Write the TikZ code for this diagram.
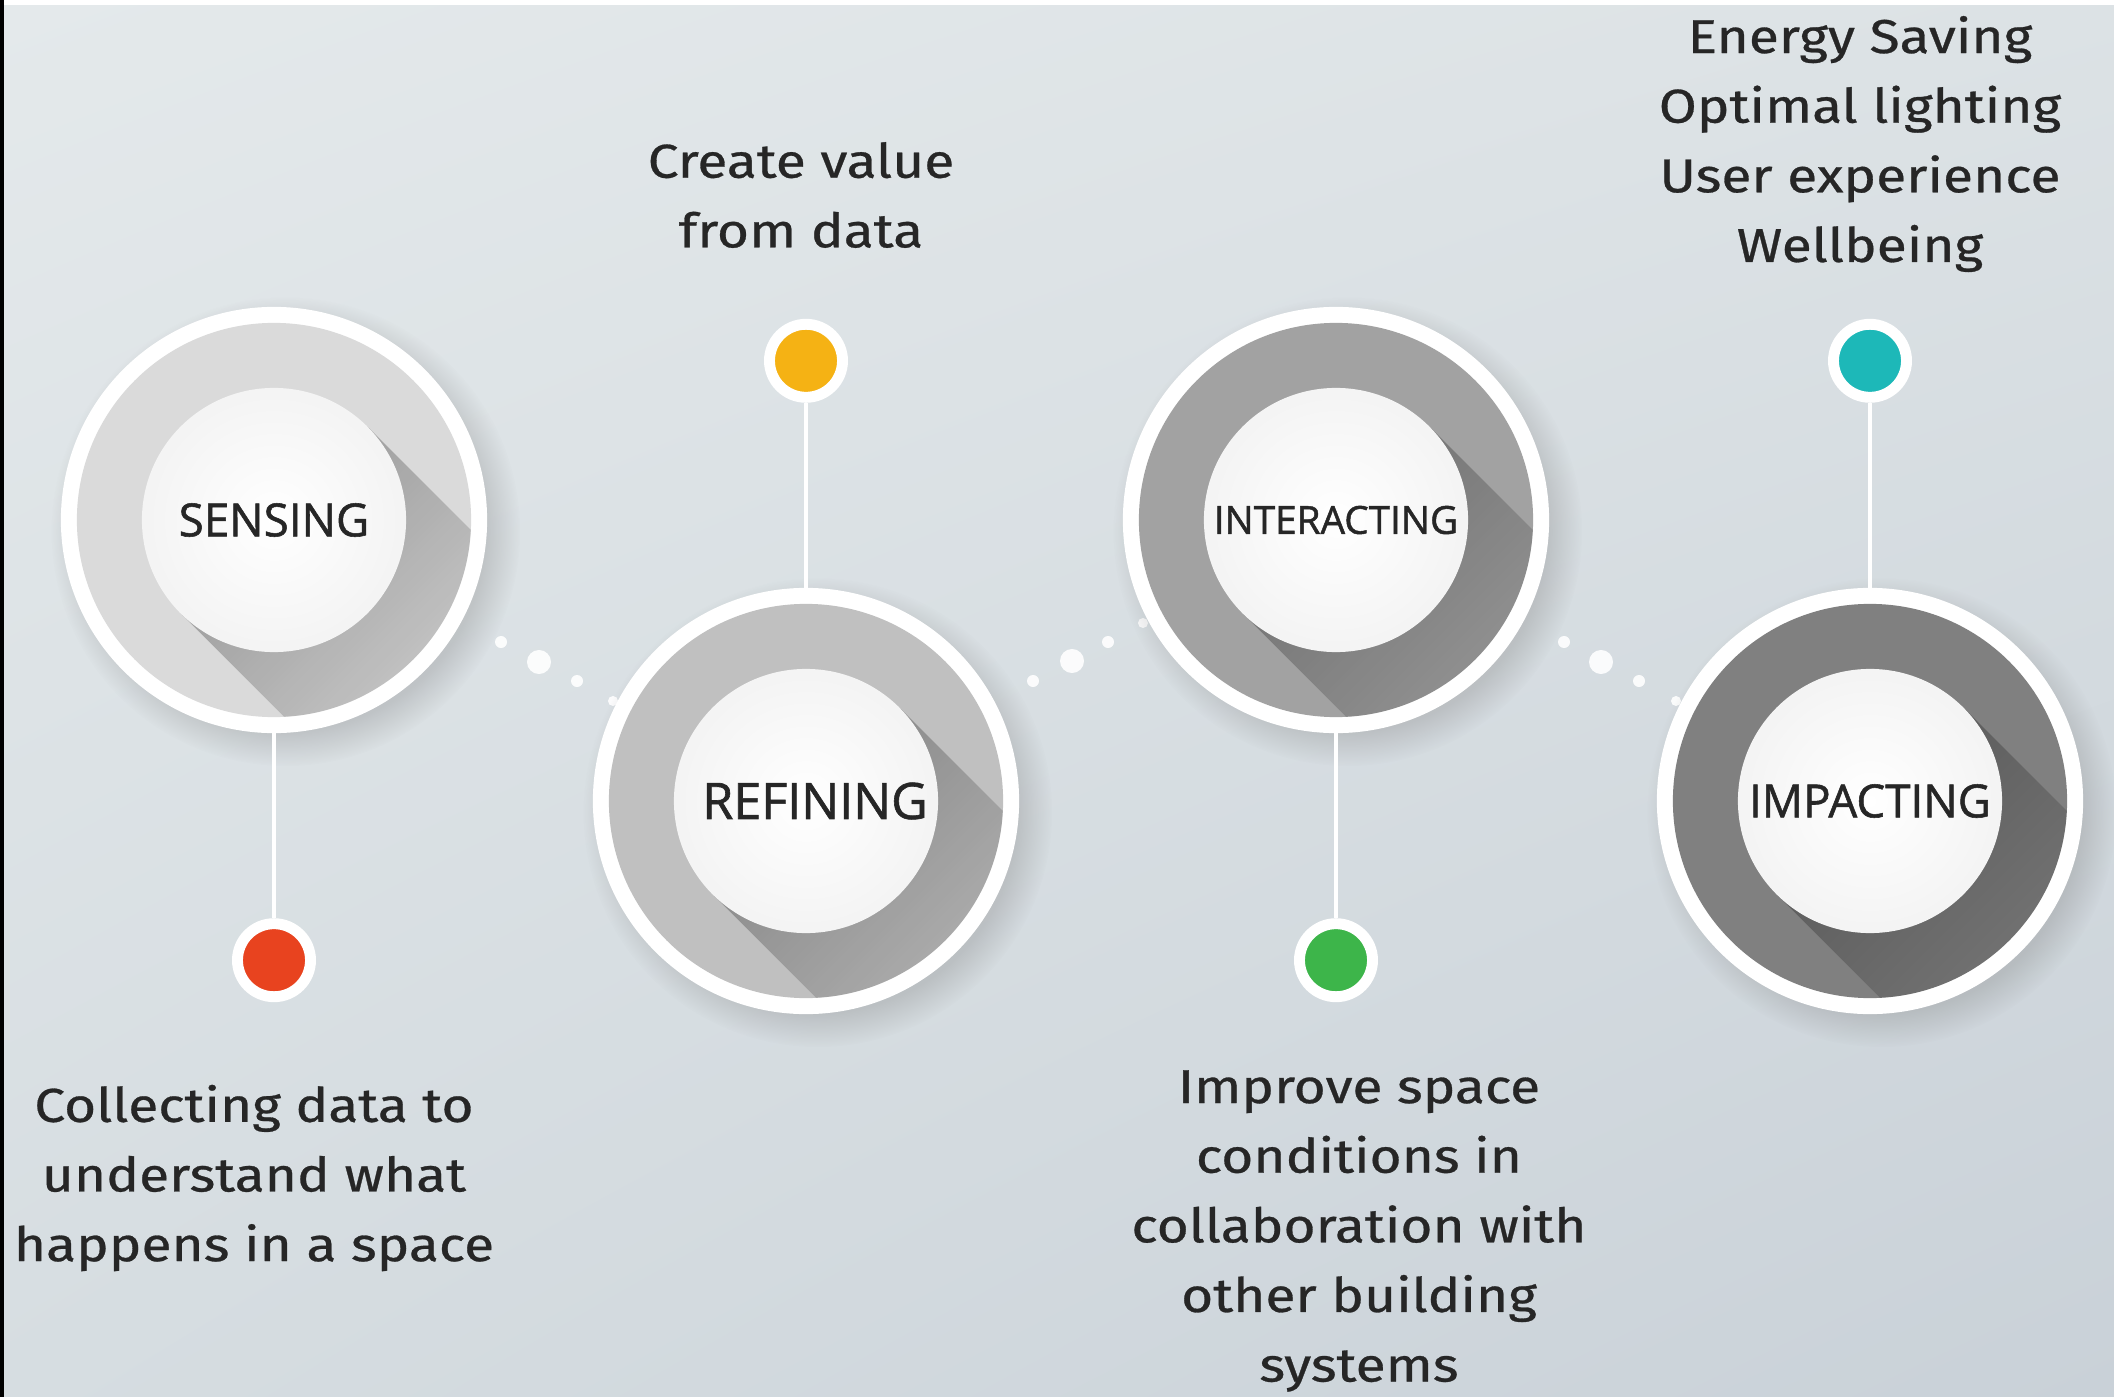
\documentclass[tikz,border=0pt]{standalone}
\usepackage{fontspec}
\setmainfont{Open Sans}
\newfontfamily\descfont[FakeStretch=1.16, FakeBold=0.6]{Fira Sans}
\newfontfamily\ballfont[FakeBold=1.2]{Open Sans}
\usepackage{xcolor}
\usetikzlibrary{positioning,shadows,shadings,fadings}

\definecolor{bgTL}{HTML}{E4E9EB}
\definecolor{bgTR}{HTML}{DCE2E5}
\definecolor{bgBL}{HTML}{D6DDE1}
\definecolor{bgBR}{HTML}{C9D1D8}
\definecolor{ringA}{HTML}{DADADA}
\definecolor{ringB}{HTML}{C0C0C0}
\definecolor{ringC}{HTML}{A2A2A2}
\definecolor{ringD}{HTML}{808080}
\definecolor{dotRed}{HTML}{E8431F}
\definecolor{dotYellow}{HTML}{F5B214}
\definecolor{dotGreen}{HTML}{3DB54A}
\definecolor{dotTeal}{HTML}{1DB8B8}
\definecolor{inkText}{HTML}{262626}

\begin{document}
\begin{tikzpicture}[
  x=0.01cm, y=-0.01cm,
  ring/.style={circle, fill=white, minimum size=4.26cm, inner sep=0pt, outer sep=0pt,
    circular drop shadow={shadow xshift=3pt, shadow yshift=-3pt, opacity=0.3}},
  disc/.style={circle, fill=#1, minimum size=3.94cm, inner sep=0pt, outer sep=0pt},
  ball/.style={circle, minimum size=2.64cm, inner sep=0pt, shade, inner color=white,
    outer color=gray!9, text=inkText},
  longshade/.style={fill=black, fill opacity=0.3, path fading=south, fading angle=45},
  dot/.style={circle, draw=white, line width=3.1pt, fill=#1, minimum size=0.73cm, inner sep=0pt},
  stem/.style={draw=white, line width=1.2pt},
  spark/.style={circle, fill=white, fill opacity=0.9, minimum size=#1, inner sep=0pt},
  desc/.style={align=center, text=inkText, font=\descfont\fontsize{13.5}{19.8}\selectfont}
]
  % background
  \useasboundingbox (0,0) rectangle (2114,1397);
  \shade[upper left=bgTL, upper right=bgTR, lower left=bgBL, lower right=bgBR]
    (0,0) rectangle (2114,1397);
  \fill[white] (0,0) rectangle (2114,5);
  \fill[black] (0,0) rectangle (4,1397);

  % little dots between the stages
  \node[spark=0.12cm] (s1a) at (501,642) {};
  \node[spark=0.24cm] (s1b) at (539,662) {};
  \node[spark=0.12cm] (s1c) at (577,681) {};
  \node[spark=0.10cm] (s1d) at (613,701) {};
  \node[spark=0.12cm] (s2a) at (1033,681) {};
  \node[spark=0.24cm] (s2b) at (1072,661) {};
  \node[spark=0.12cm] (s2c) at (1108,642) {};
  \node[spark=0.10cm] (s2d) at (1143,623) {};
  \node[spark=0.12cm] (s3a) at (1564,642) {};
  \node[spark=0.24cm] (s3b) at (1601,662) {};
  \node[spark=0.12cm] (s3c) at (1639,681) {};
  \node[spark=0.10cm] (s3d) at (1676,701) {};

  % stages
  \node[ring] (sense) at (274,520) {};
  \node[ring] (refine) at (806,801) {};
  \node[ring] (interact) at (1336,520) {};
  \node[ring] (impact) at (1870,801) {};
  \node[disc=ringA] at (sense) {};
  \node[disc=ringB] at (refine) {};
  \node[disc=ringC] at (interact) {};
  \node[disc=ringD] at (impact) {};

  \begin{scope}[shift={(sense.center)}]
    \clip (0,0) circle (197);
    \fill[longshade] (135:132) -- ++(45:300) -- ++(-45:264) -- (-45:132) -- cycle;
  \end{scope}
  \begin{scope}[shift={(refine.center)}]
    \clip (0,0) circle (197);
    \fill[longshade] (135:132) -- ++(45:300) -- ++(-45:264) -- (-45:132) -- cycle;
  \end{scope}
  \begin{scope}[shift={(interact.center)}]
    \clip (0,0) circle (197);
    \fill[longshade] (135:132) -- ++(45:300) -- ++(-45:264) -- (-45:132) -- cycle;
  \end{scope}
  \begin{scope}[shift={(impact.center)}]
    \clip (0,0) circle (197);
    \fill[longshade] (135:132) -- ++(45:300) -- ++(-45:264) -- (-45:132) -- cycle;
  \end{scope}

  \node[ball, font=\ballfont\fontsize{13}{15}\selectfont] (senseball) at (sense) {SENSING};
  \node[ball, font=\ballfont\fontsize{14.3}{16}\selectfont] (refineball) at (refine)
    {\hspace*{0.18cm}REFINING};
  \node[ball, font=\ballfont\fontsize{11}{14}\selectfont] (interactball) at (interact) {INTERACTING};
  \node[ball, font=\ballfont\fontsize{13}{15}\selectfont] (impactball) at (impact) {IMPACTING};

  % coloured markers
  \node[dot=dotRed, below=1.85cm of sense] (redDot) {};
  \node[dot=dotYellow, above=1.85cm of refine] (yellowDot) {};
  \node[dot=dotGreen, below=1.85cm of interact] (greenDot) {};
  \node[dot=dotTeal, above=1.85cm of impact] (tealDot) {};

  \draw[stem] (sense.south) -- (redDot.north);
  \draw[stem] (refine.north) -- (yellowDot.south);
  \draw[stem] (interact.south) -- (greenDot.north);
  \draw[stem] (impact.north) -- (tealDot.south);

  % texts
  \node[desc] (senseText) at (254,1178) {Collecting data to\\understand what\\happens in a space};
  \node[desc] (refineText) at (801,195) {Create value\\from data};
  \node[desc] (interactText) at (1359,1231) {Improve space\\conditions in\\collaboration with\\other building\\systems};
  \node[desc] (impactText) at (1860,144) {Energy Saving\\Optimal lighting\\User experience\\Wellbeing};
\end{tikzpicture}
\end{document}
